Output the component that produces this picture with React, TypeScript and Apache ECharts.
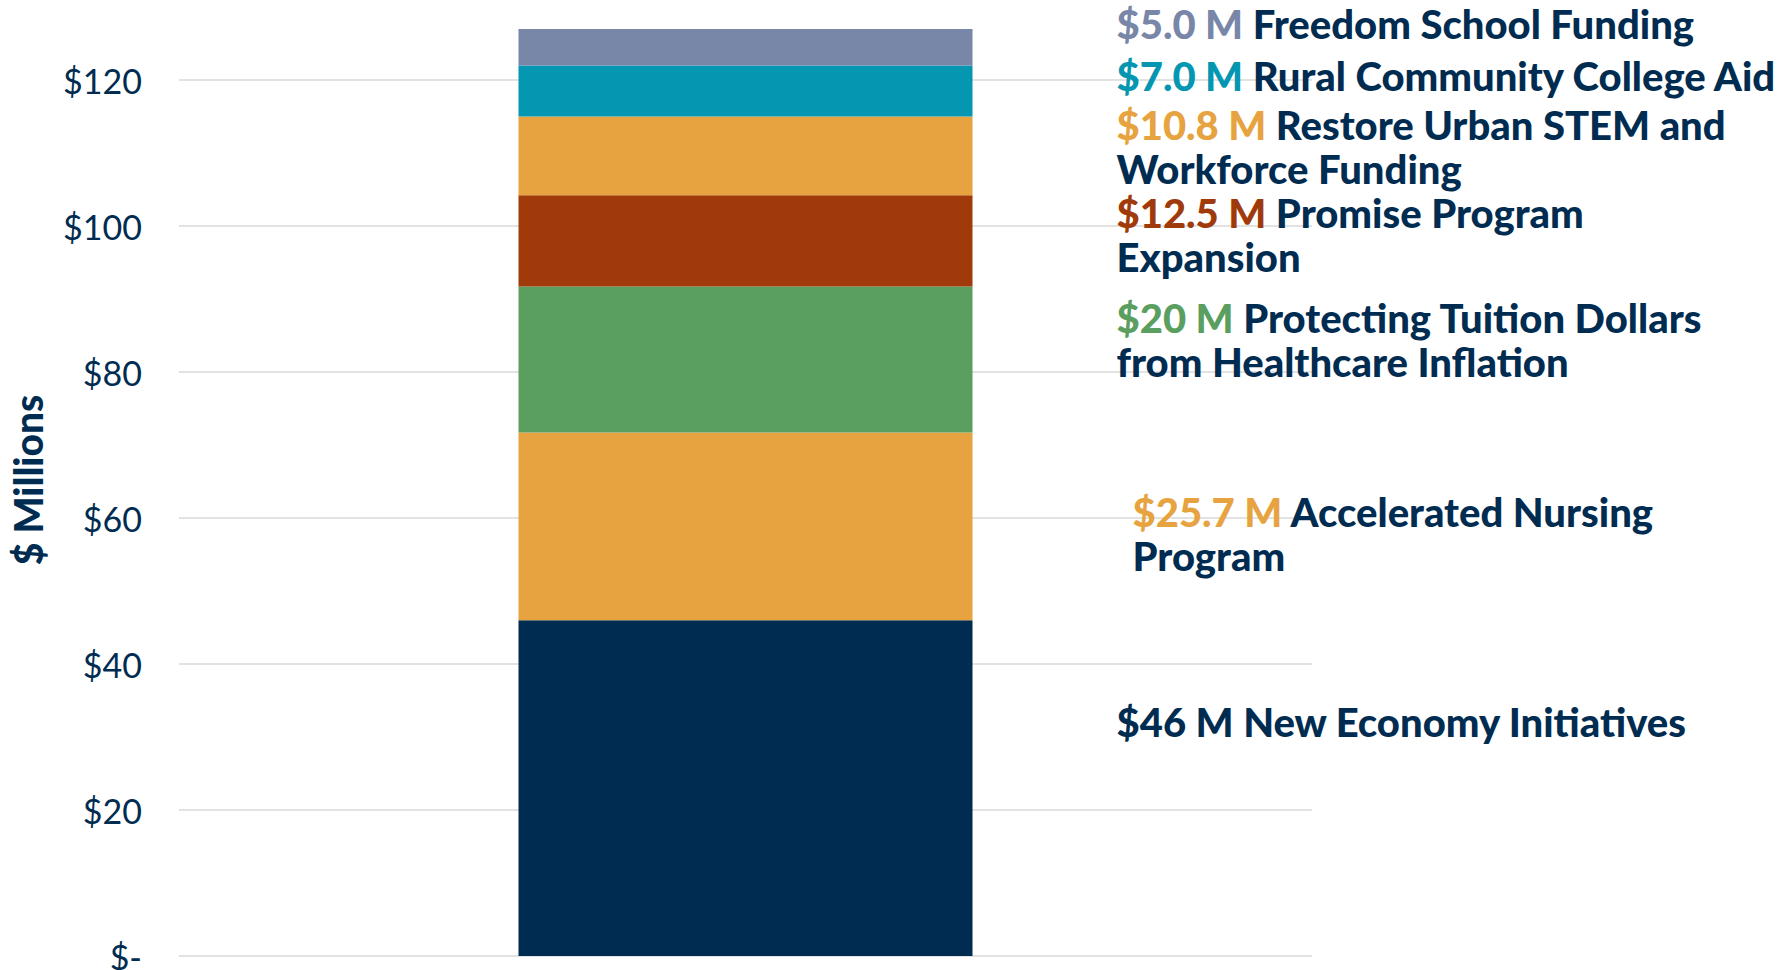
import React, { useEffect, useRef } from "react";
import * as echarts from "echarts";

// ---- data ----
const categories = ["Budget Request"];
const programs = [
  "New Economy Initiatives",
  "Accelerated Nursing\nProgram",
  "Protecting Tuition Dollars\nfrom Healthcare Inflation",
  "Promise Program\nExpansion",
  "Restore Urban STEM and\nWorkforce Funding",
  "Rural Community College Aid",
  "Freedom School Funding",
];
const amounts = [46, 25.7, 20, 12.5, 10.8, 7.0, 5.0];
const amountLabels = ["$46 M", "$25.7 M", "$20 M", "$12.5 M", "$10.8 M", "$7.0 M", "$5.0 M"];
const yTicks = [0, 20, 40, 60, 80, 100, 120];

// ---- styles ----
const NAVY = "#012c51";
const colors = ["#012c51", "#e6a340", "#5a9e60", "#a03a0a", "#e6a340", "#0597b2", "#7886a8"];
const labelOffsets: [number, number][] = [
  [144, -66],
  [160, 8],
  [144, -20],
  [144, -6],
  [144, -9],
  [144, -15],
  [144, -23],
];

const LABEL_FONT = "Lato";
const LABEL_SIZE = 40;

export default function App() {
  const ref = useRef<HTMLDivElement>(null);
  useEffect(() => {
    if (!ref.current) return;
    const chart = echarts.init(ref.current, null, { renderer: "svg" });
    const series = amounts.map((v, i) => {
      const lines = programs[i].split("\n");
      const text =
        `{v${i}|${amountLabels[i]}}{n| ${lines[0]}}` +
        lines.slice(1).map((l) => `\n{n|${l}}`).join("");
      return {
        type: "bar",
        name: programs[i].replace("\n", " "),
        stack: "total",
        barWidth: 454,
        data: [v],
        itemStyle: { color: colors[i] },
        label: {
          show: true,
          position: "right",
          distance: 0,
          offset: labelOffsets[i],
          formatter: text,
          lineHeight: 44,
          rich: {
            [`v${i}`]: {
              color: colors[i],
              fontFamily: LABEL_FONT,
              fontWeight: 900,
              fontSize: LABEL_SIZE,
              lineHeight: 44,
            },
            n: {
              color: NAVY,
              fontFamily: LABEL_FONT,
              fontWeight: 900,
              fontSize: LABEL_SIZE,
              lineHeight: 44,
            },
          },
        },
      };
    });
    chart.setOption({
      animation: false,
      backgroundColor: "#ffffff",
      grid: {
        left: 179,
        right: 473,
        top: -66,
        bottom: 14,
        containLabel: false,
        outerBoundsMode: "none",
      },
      xAxis: {
        type: "category",
        data: categories,
        axisLine: { show: false },
        axisTick: { show: false },
        axisLabel: { show: false },
      },
      yAxis: {
        type: "value",
        min: 0,
        max: 140,
        interval: 20,
        axisLine: { show: false },
        axisTick: { show: false },
        splitLine: { lineStyle: { color: "#d9d9d9", width: 1.5 } },
        axisLabel: {
          margin: 37,
          color: NAVY,
          fontFamily: "Lato",
          fontSize: 34,
          formatter: (v: number) =>
            yTicks.indexOf(v) < 0 ? "" : v === 0 ? "$-" : "$" + v,
        },
      },
      graphic: [
        {
          type: "text",
          x: 28,
          y: 480,
          rotation: Math.PI / 2,
          style: {
            text: "$ Millions",
            fill: NAVY,
            font: `900 39px ${LABEL_FONT}`,
            align: "center",
            verticalAlign: "middle",
          },
        },
      ],
      series,
    });
    return () => chart.dispose();
  }, []);
  return (
    <div
      ref={ref}
      style={{ position: "fixed", left: 0, top: 0, width: 1785, height: 970 }}
    />
  );
}
